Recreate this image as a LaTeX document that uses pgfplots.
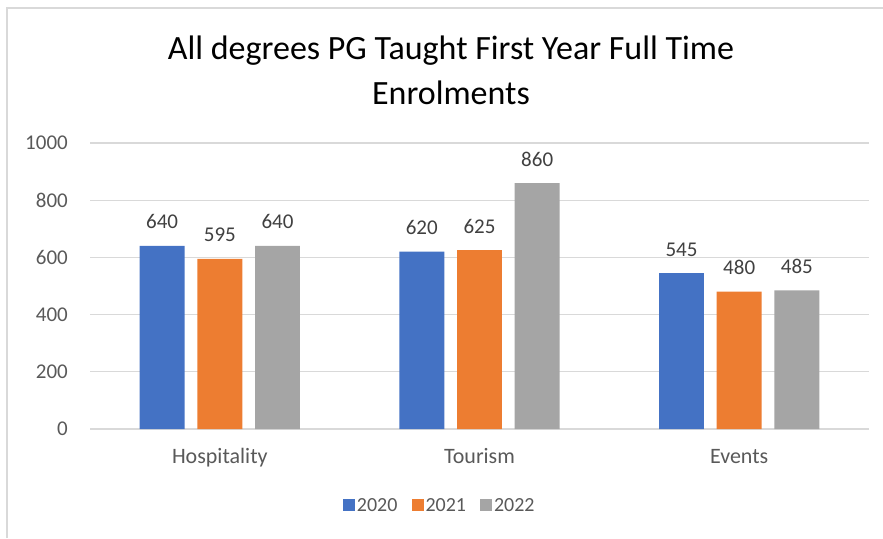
\documentclass[border=0pt]{standalone}
\usepackage{pgfplots}
\pgfplotsset{compat=1.18}
\usepackage{fontspec}
\setmainfont{Carlito}
\definecolor{c1}{HTML}{4472C4}
\definecolor{c2}{HTML}{ED7D31}
\definecolor{c3}{HTML}{A5A5A5}
\definecolor{gridc}{HTML}{D9D9D9}
\definecolor{tickc}{HTML}{595959}
\definecolor{labc}{HTML}{404040}
\begin{document}
\begin{tikzpicture}[x=1pt,y=1pt]
\path[use as bounding box] (0,0) rectangle (883,538);
\draw[color=gridc, line width=1.3pt] (7,0) -- (7,530) -- (883,530);
\node[align=center, font=\fontsize{34}{45}\selectfont, text=black] at (451,467.5) {All degrees PG Taught First Year Full Time\\Enrolments};
\begin{axis}[
  at={(90pt,109pt)}, anchor=south west, scale only axis,
  width=779pt, height=286pt,
  xmin=-0.5, xmax=2.5, ymin=0, ymax=1000,
  ytick={0,200,400,600,800,1000},
  xtick={0,1,2}, xticklabels={Hospitality,Tourism,Events},
  axis line style={draw=none},
  major tick length=0pt,
  ymajorgrids, grid style={color=gridc, line width=1.3pt},
  tick label style={font=\fontsize{21}{24}\selectfont, text=tickc},
  yticklabel style={anchor=east, inner sep=0pt, xshift=-22pt, /pgf/number format/1000 sep={}},
  xticklabel style={anchor=base, inner sep=0pt, yshift=-34pt, font=\fontsize{22}{24}\selectfont},
  /pgf/number format/assume math mode=true,
  nodes near coords,
  every node near coord/.append style={font=\fontsize{21}{24}\selectfont, text=labc, anchor=base, inner sep=0pt, yshift=17pt},
  legend columns=-1,
  legend style={draw=none, fill=none, at={(0.449,-0.269)}, anchor=center, font=\fontsize{20}{24}\selectfont, text=tickc, nodes={inner sep=2pt}, /tikz/every even column/.append style={column sep=12pt}},
  legend image code/.code={\fill[#1] (0pt,-5pt) rectangle (12pt,7pt);},
]
\addplot[ybar, bar width=0.173, bar shift=-0.222, fill=c1, draw=none,
  every node near coord/.append style={xshift=-57.7pt}] coordinates {(0,640) (1,620) (2,545)};
\addlegendentry{2020}
\addplot[ybar, bar width=0.173, bar shift=0, fill=c2, draw=none] coordinates {(0,595) (1,625) (2,480)};
\addlegendentry{2021}
\addplot[ybar, bar width=0.173, bar shift=0.222, fill=c3, draw=none,
  every node near coord/.append style={xshift=57.7pt}] coordinates {(0,640) (1,860) (2,485)};
\addlegendentry{2022}
\end{axis}
\end{tikzpicture}
\end{document}
